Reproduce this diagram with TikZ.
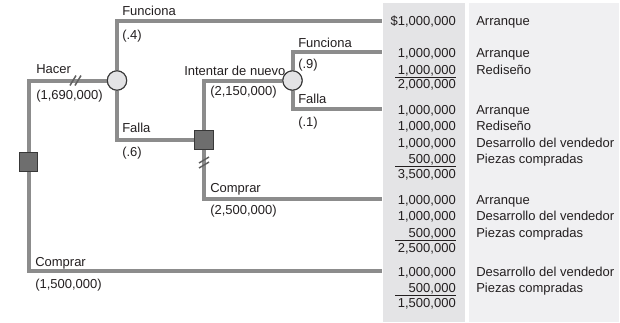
\documentclass[tikz,border=0pt]{standalone}
\usepackage{fontspec}
\setmainfont{Liberation Sans}
\definecolor{branch}{HTML}{8C8C8C}
\definecolor{panelA}{HTML}{E4E4E6}
\definecolor{panelB}{HTML}{F0F0F2}
\definecolor{sqfill}{HTML}{6E6E6E}
\definecolor{sqdraw}{HTML}{383838}
\definecolor{cifill}{HTML}{E3E3E5}
\definecolor{ink}{HTML}{231F20}
\begin{document}
\begin{tikzpicture}[x=0.75pt,y=-0.75pt,
  every node/.style={text=ink,font=\fontsize{9.75}{11}\selectfont},
  lbl/.style={inner sep=0pt,text height=7pt,text depth=0pt,anchor=west},
  num/.style={inner sep=0pt,text height=7pt,text depth=0pt,anchor=east},
  branchline/.style={draw=branch,line width=3pt,line join=miter},
  decision/.style={draw=sqdraw,fill=sqfill,line width=0.9pt,minimum size=14pt,inner sep=0pt,rectangle},
  chance/.style={draw=sqdraw,fill=cifill,line width=0.8pt,minimum size=14.5pt,inner sep=0pt,circle},
  slashmark/.style={draw=sqdraw!80,line width=1.1pt},
  sumline/.style={draw=ink,line width=0.7pt}]
\useasboundingbox (0,0) rectangle (620,322);
% panels
\fill[panelA] (383,3) rectangle (465,322);
\fill[panelB] (469,3) rectangle (619,322);
% nodes
\node[decision] (r) at (28.5,162) {};
\node[chance] (c1) at (117,80.5) {};
\node[decision] (d2) at (204,140) {};
\node[chance] (c2) at (292.5,80.5) {};
\coordinate (e1) at (382,21);
\coordinate (e2) at (382,52);
\coordinate (e3) at (382,109);
\coordinate (e4) at (382,199);
\coordinate (e5) at (382,271);
% branches
\draw[branchline] (r) |- (c1);
\draw[branchline] (r) |- (e5);
\draw[branchline] (c1) |- (e1);
\draw[branchline] (c1) |- (d2);
\draw[branchline] (d2) |- (c2);
\draw[branchline] (d2) |- (e4);
\draw[branchline] (c2) |- (e2);
\draw[branchline] (c2) |- (e3);
% redraw nodes on top
\node[decision] at (r) {};
\node[chance] at (c1) {};
\node[decision] at (d2) {};
\node[chance] at (c2) {};
% slash marks
\draw[slashmark] (70,85.5) -- (76,75.5) (75,85.5) -- (81,75.5);
\draw[slashmark] (199,163) -- (209,157) (199,168) -- (209,162);
% branch labels
\node[lbl] (tHacer) at (36,69) {Hacer};
\node[lbl] (vHacer) at (36,95) {(1,690,000)};
\node[lbl] (tF1) at (122,11) {Funciona};
\node[lbl] (pF1) at (122,35) {(.4)};
\node[lbl] (tFa1) at (122,128) {Falla};
\node[lbl] (pFa1) at (122,151.5) {(.6)};
\node[lbl] (tInt) at (184,70.5) {Intentar de nuevo};
\node[lbl] (vInt) at (210,90.5) {(2,150,000)};
\node[lbl] (tF2) at (298,42.5) {Funciona};
\node[lbl] (pF2) at (298,64) {(.9)};
\node[lbl] (tFa2) at (298,99) {Falla};
\node[lbl] (pFa2) at (298,121.5) {(.1)};
\node[lbl] (tC2) at (210,188) {Comprar};
\node[lbl] (vC2) at (210,210) {(2,500,000)};
\node[lbl] (tC1) at (35,262) {Comprar};
\node[lbl] (vC1) at (35,283.5) {(1,500,000)};
% outcome column
\node[num] (a1) at (456,21) {\$1,000,000};
\node[lbl] (b1) at (476,21) {Arranque};
\node[num] (a2) at (456,52.5) {1,000,000};
\node[lbl] (b2) at (476,52.5) {Arranque};
\node[num] (a3) at (456,69.5) {1,000,000};
\node[lbl] (b3) at (476,69.5) {Rediseño};
\draw[sumline] (395,77.3) -- (456,77.3);
\node[num] (s1) at (456,84) {2,000,000};
\node[num] (a4) at (456,110) {1,000,000};
\node[lbl] (b4) at (476,110) {Arranque};
\node[num] (a5) at (456,126.3) {1,000,000};
\node[lbl] (b5) at (476,126.3) {Rediseño};
\node[num] (a6) at (456,142.6) {1,000,000};
\node[lbl] (b6) at (476,142.6) {Desarrollo del vendedor};
\node[num] (a7) at (456,158.9) {500,000};
\node[lbl] (b7) at (476,158.9) {Piezas compradas};
\draw[sumline] (395,166.5) -- (456,166.5);
\node[num] (s2) at (456,174) {3,500,000};
\node[num] (a8) at (456,200) {1,000,000};
\node[lbl] (b8) at (476,200) {Arranque};
\node[num] (a9) at (456,216.3) {1,000,000};
\node[lbl] (b9) at (476,216.3) {Desarrollo del vendedor};
\node[num] (a10) at (456,232.6) {500,000};
\node[lbl] (b10) at (476,232.6) {Piezas compradas};
\draw[sumline] (395,240) -- (456,240);
\node[num] (s3) at (456,247.5) {2,500,000};
\node[num] (a11) at (456,271.5) {1,000,000};
\node[lbl] (b11) at (476,271.5) {Desarrollo del vendedor};
\node[num] (a12) at (456,287.8) {500,000};
\node[lbl] (b12) at (476,287.8) {Piezas compradas};
\draw[sumline] (395,295.5) -- (456,295.5);
\node[num] (s4) at (456,303) {1,500,000};
\end{tikzpicture}
\end{document}
